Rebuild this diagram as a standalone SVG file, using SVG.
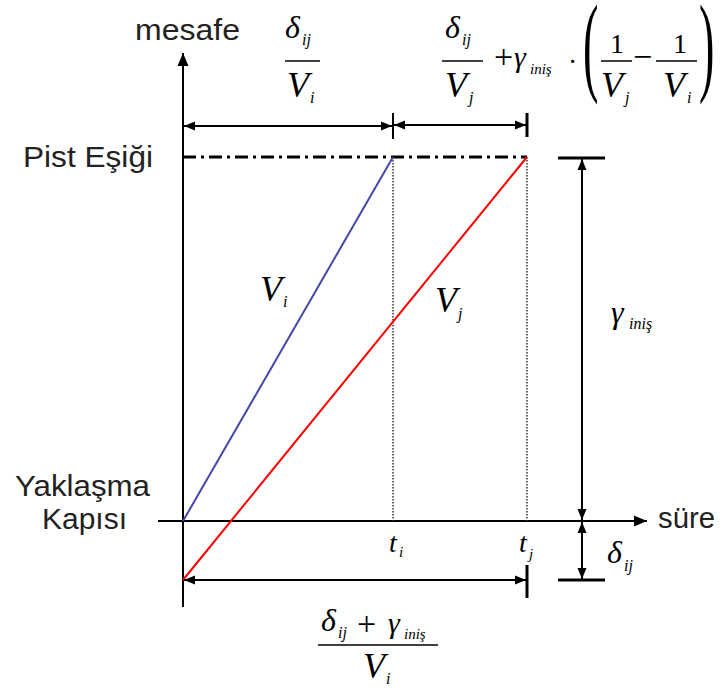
<svg xmlns="http://www.w3.org/2000/svg" width="722" height="690" viewBox="0 0 722 690">
<style>
.lbl{font-family:"Liberation Sans",Arial,sans-serif;font-size:29px;fill:#222}
.m{font-family:"Liberation Serif","Times New Roman",serif;font-style:italic;fill:#000}
.r{font-family:"Liberation Serif","Times New Roman",serif;fill:#000}
.ln{stroke:#000;stroke-width:2;fill:none}
.tick{stroke:#000;stroke-width:3;fill:none}
.bar{stroke:#000;stroke-width:1.5}
.dot{stroke:#333;stroke-width:1.5;stroke-dasharray:1.5 1.5;fill:none}
</style>
<defs>
<marker id="ah" markerUnits="userSpaceOnUse" markerWidth="12" markerHeight="10" refX="11" refY="5" orient="auto-start-reverse">
<path d="M0,0.5 L11,5 L0,9.5 z" fill="#000"/>
</marker>
<marker id="ax" markerUnits="userSpaceOnUse" markerWidth="14" markerHeight="12" refX="13" refY="6" orient="auto">
<path d="M0,0.5 L13,6 L0,11.5 z" fill="#000"/>
</marker>
</defs>

<g id="axes">
<line class="ln" x1="183" y1="607" x2="183" y2="53" marker-end="url(#ax)"/>
<line class="ln" x1="158" y1="521" x2="647" y2="521" marker-end="url(#ax)"/>
</g>

<g id="threshold">
<line x1="183" y1="157" x2="527" y2="157" stroke="#000" stroke-width="3" stroke-dasharray="13 5 3 5"/>
<line class="dot" x1="393" y1="157" x2="393" y2="521"/>
<line class="dot" x1="527" y1="157" x2="527" y2="521" stroke="#666"/>
</g>

<g id="lines">
<line x1="183" y1="521" x2="393" y2="157" stroke="#4646a8" stroke-width="2"/>
<line x1="183" y1="580" x2="527" y2="157" stroke="#ff0000" stroke-width="2"/>
</g>

<g id="connectors">
<line class="ln" x1="184" y1="126" x2="392" y2="126" marker-start="url(#ah)" marker-end="url(#ah)"/>
<line class="ln" x1="394" y1="125" x2="526" y2="125" marker-start="url(#ah)" marker-end="url(#ah)"/>
<line x1="393" y1="113" x2="393" y2="139" stroke="#000" stroke-width="2"/>
<line class="tick" x1="527" y1="113" x2="527" y2="137"/>
<line class="ln" x1="582" y1="159" x2="582" y2="520" marker-start="url(#ah)" marker-end="url(#ah)"/>
<line class="tick" x1="558" y1="158" x2="605" y2="158"/>
<line class="ln" x1="582" y1="522" x2="582" y2="579" marker-start="url(#ah)" marker-end="url(#ah)"/>
<line class="tick" x1="558" y1="580" x2="605" y2="580"/>
<line class="ln" x1="184" y1="580" x2="526" y2="580" marker-start="url(#ah)" marker-end="url(#ah)"/>
<line class="tick" x1="527" y1="565" x2="527" y2="598"/>
</g>

<g id="axis-labels">
<text class="lbl" x="135" y="40" textLength="105" lengthAdjust="spacingAndGlyphs">mesafe</text>
<text class="lbl" x="23" y="167" textLength="130" lengthAdjust="spacingAndGlyphs">Pist Eşiği</text>
<text class="lbl" x="15" y="496" textLength="135" lengthAdjust="spacingAndGlyphs">Yaklaşma</text>
<text class="lbl" x="42" y="529" textLength="85" lengthAdjust="spacingAndGlyphs">Kapısı</text>
<text class="lbl" x="658" y="528" textLength="57" lengthAdjust="spacingAndGlyphs">süre</text>
</g>

<g id="frac-top-left">
<text class="m" x="285" y="38" style="font-size:32px">δ</text>
<text class="m" x="302" y="45" style="font-size:16px">ij</text>
<line class="bar" x1="285" y1="61" x2="320" y2="61"/>
<text class="m" x="287" y="97" style="font-size:36px">V</text>
<text class="m" x="310" y="103" style="font-size:16px">i</text>
</g>

<g id="frac-top-right">
<text class="m" x="445" y="38" style="font-size:32px">δ</text>
<text class="m" x="462" y="45" style="font-size:16px">ij</text>
<line class="bar" x1="442" y1="61" x2="483" y2="61"/>
<text class="m" x="445" y="97" style="font-size:36px">V</text>
<text class="m" x="469" y="103" style="font-size:16px">j</text>
<text class="r" x="494" y="68" style="font-size:34px">+</text>
<text class="m" x="514" y="67" style="font-size:30px">γ</text>
<text class="m" x="530" y="74" style="font-size:15px">iniş</text>
<text class="r" x="568" y="71" style="font-size:28px">·</text>
<text class="r" style="font-size:110px" transform="translate(583,81) scale(0.42,1)">(</text>
<text class="r" x="610" y="53" style="font-size:28px">1</text>
<line class="bar" x1="601" y1="61" x2="632" y2="61"/>
<text class="m" x="601" y="97" style="font-size:36px">V</text>
<text class="m" x="625" y="103" style="font-size:16px">j</text>
<text class="r" x="633" y="68" style="font-size:34px">−</text>
<text class="r" x="673" y="53" style="font-size:28px">1</text>
<line class="bar" x1="656" y1="61" x2="697" y2="61"/>
<text class="m" x="663" y="97" style="font-size:36px">V</text>
<text class="m" x="687" y="103" style="font-size:16px">i</text>
<text class="r" style="font-size:110px" transform="translate(699,81) scale(0.42,1)">)</text>
</g>

<g id="frac-bottom">
<text class="m" x="321" y="631" style="font-size:32px">δ</text>
<text class="m" x="338" y="638" style="font-size:16px">ij</text>
<text class="r" x="357" y="635" style="font-size:34px">+</text>
<text class="m" x="388" y="633" style="font-size:30px">γ</text>
<text class="m" x="404" y="639" style="font-size:15px">iniş</text>
<line class="bar" x1="318" y1="645" x2="438" y2="645"/>
<text class="m" x="363" y="678" style="font-size:36px">V</text>
<text class="m" x="386" y="684" style="font-size:16px">i</text>
</g>

<g id="labels">
<text class="m" x="260" y="301" style="font-size:36px">V</text>
<text class="m" x="283" y="307" style="font-size:16px">i</text>
<text class="m" x="435" y="312" style="font-size:36px">V</text>
<text class="m" x="458" y="319" style="font-size:16px">j</text>
<text class="m" x="611" y="323" style="font-size:32px">γ</text>
<text class="m" x="629" y="329" style="font-size:16px">iniş</text>
<text class="m" x="389" y="552" style="font-size:28px">t</text>
<text class="m" x="399" y="557" style="font-size:15px">i</text>
<text class="m" x="519" y="552" style="font-size:28px">t</text>
<text class="m" x="529" y="559" style="font-size:15px">j</text>
<text class="m" x="607" y="563" style="font-size:32px">δ</text>
<text class="m" x="624" y="571" style="font-size:16px">ij</text>
</g>
</svg>
